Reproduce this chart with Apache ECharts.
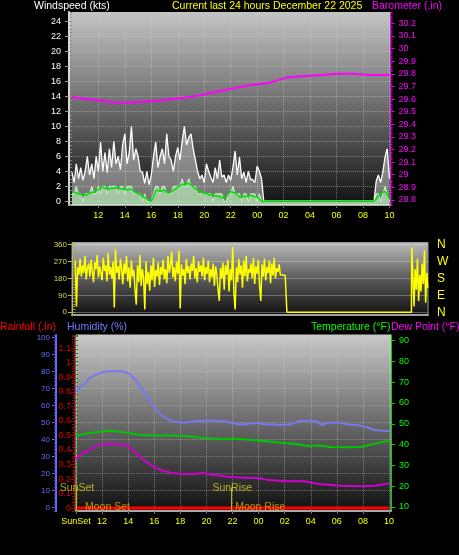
<!DOCTYPE html>
<html><head><meta charset="utf-8">
<script src="https://cdn.jsdelivr.net/npm/echarts@6/dist/echarts.min.js"></script>
<style>html,body{margin:0;padding:0;background:#000;}#c{width:459px;height:555px;}</style>
</head><body><div id="c"></div>
<script>
// ---------- tick labels ----------
const topTickHours = [2,4,6,8,10,12,14,16,18,20,22,24];
const topTickLabels = ['12','14','16','18','20','22','00','02','04','06','08','10'];
const botTickHours = [0,2,4,6,8,10,12,14,16,18,20,22,24];
const botTickLabels = ['SunSet','12','14','16','18','20','22','00','02','04','06','08','10'];
const windTicks = [0,2,4,6,8,10,12,14,16,18,20,22,24];
const baroTicks = [28.8,28.9,29,29.1,29.2,29.3,29.4,29.5,29.6,29.7,29.8,29.9,30,30.1,30.2];
const dirTicks = [0,90,180,270,360];
const compassLabels = {0:'N',90:'E',180:'S',270:'W',360:'N'};
const tempTicks = [10,20,30,40,50,60,70,80,90];
const humTicks = [0,10,20,30,40,50,60,70,80,90,100];
const rainTicks = [0,0.1,0.2,0.3,0.4,0.5,0.6,0.7,0.8,0.9,1,1.1];

// ---------- wind (10-minute samples from 10:00, hours since start = i/6) ----------
const windStep = 1/6;
const windGust = [
 3.9,2.5,5.0,3.0,4.5,2.8,4.0,6.0,3.5,5.0,
 3.0,6.0,4.0,7.9,4.0,6.5,3.8,7.0,4.5,8.0,
 5.0,6.0,4.2,7.5,9.0,5.0,6.5,10.0,5.5,7.0,
 6.0,4.0,3.9,2.4,4.0,2.2,3.5,6.0,7.9,4.5,
 6.0,7.0,5.0,9.0,6.0,5.5,4.0,6.0,7.2,5.5,
 8.0,10.0,7.5,8.5,9.0,7.0,5.5,4.0,3.0,3.5,
 2.5,5.0,4.0,3.2,2.5,4.5,3.0,5.5,3.2,3.5,
 2.5,3.5,2.8,4.5,6.7,3.5,5.9,3.0,3.9,2.5,
 4.0,2.9,2.9,2.5,4.7,4.0,3.0,
 0,0,0,0,0,0,0,0,0,0,0,0,0,0,0,0,0,0,0,0,0,0,0,0,0,0,
 0,0,0,0,0,0,0,0,0,0,0,0,0,0,0,0,0,0,0,0,0,0,0,0,0,
 2.7,3.5,2.5,3.9,5.9,7.0,3.0
];
const windSpeed = [
 1,1,2,1,1,0,1,1,1,2,
 1,1,2,1,2,2,1,2,2,2,
 2,1,2,2,1,2,2,2,1,1,
 1,1,0,1,0,0,0,1,2,2,
 1,2,2,1,1,1,2,2,2,2,
 3,2,2,3,2,2,2,1,1,1,
 1,1,1,1,0,1,1,1,1,0,
 0,1,1,2,1,1,1,0,1,1,
 0,1,1,1,0,1,0,
 0,0,0,0,0,0,0,0,0,0,0,0,0,0,0,0,0,0,0,0,0,0,0,0,0,0,
 0,0,0,0,0,0,0,0,0,0,0,0,0,0,0,0,0,0,0,0,0,0,0,0,0,
 1,1,0,1,2,1,0
];
const windAvg = [
 1.2,1.2,1.1,1.0,0.9,0.8,0.8,0.9,1.1,1.2,
 1.2,1.4,1.6,1.8,1.9,1.7,1.8,1.6,1.8,1.7,
 1.8,1.9,1.7,1.6,1.7,1.5,1.6,1.6,1.4,1.2,
 1.0,0.9,0.7,0.5,0.3,0.1,0.0,0.6,1.4,1.5,
 1.3,1.4,1.5,1.2,1.1,1.3,1.5,1.6,1.9,2.1,
 2.3,2.2,2.3,2.4,2.2,1.9,1.7,1.5,1.3,1.2,
 1.0,1.1,0.9,0.8,0.9,0.7,0.7,0.6,0.5,0.4,
 0.6,1.0,1.3,1.2,1.1,0.9,0.6,0.5,0.7,0.6,
 0.7,0.8,0.7,0.6,0.6,0.3,0.0,
 0,0,0,0,0,0,0,0,0,0,0,0,0,0,0,0,0,0,0,0,0,0,0,0,0,0,
 0,0,0,0,0,0,0,0,0,0,0,0,0,0,0,0,0,0,0,0,0,0,0,0,0,
 0.3,0.8,1.0,1.2,1.3,0.9,0.3
];

// ---------- barometer [hour, inHg] ----------
const baro = [[0,29.617],[1,29.60],[2.1,29.59],[3,29.575],[3.9,29.57],[4.8,29.575],[5.7,29.58],
 [6.8,29.59],[7.9,29.605],[8.8,29.615],[9.7,29.63],[10.8,29.655],[12,29.68],[13.4,29.71],
 [14.9,29.73],[15.6,29.75],[16.2,29.77],[17.4,29.78],[18.9,29.79],[20,29.80],[21.2,29.80],
 [22.5,29.79],[24,29.79]];

// ---------- wind direction (5-minute samples from 10:00) ----------
const dirStep = 1/12;
const dirMain = [
 275,30,240,200,285,190,250,210,300,175,235,260,
 190,280,215,160,265,230,305,185,245,210,170,290,
 220,250,165,315,200,240,180,270,25,335,210,245,
 175,285,230,150,260,205,300,165,240,130,275,190,
 225,120,40,250,160,305,140,230,180,15,270,150,
 215,115,250,170,290,135,225,190,265,145,240,200,
 280,175,230,155,300,210,250,323,185,240,165,270,
 205,327,20,255,195,230,150,285,210,245,175,260,
 220,300,180,235,160,270,215,250,190,290,170,240,
 205,275,160,230,185,260,140,245,200,120,60,235,
 180,265,120,250,200,280,110,230,170,349,100,15,
 240,160,285,200,250,130,275,190,300,165,230,210,
 260,180,290,150,245,205,280,140,60,255,190,285,
 170,240,210,275,155,260,195,290,180,235,215,255,
 200,195,198,195,196
];
const dirTail = [[14.43,195],[14.45,0],[22.95,0],[22.97,345],[23.05,340],[23.13,30],[23.2,230],
 [23.28,120],[23.36,285],[23.44,60],[23.52,200],[23.6,110],[23.68,260],[23.76,150],
 [23.84,330],[23.92,50],[24.0,210],[24.06,130]];

// ---------- bottom panel [hour, value] ----------
const humidity = [[0,68],[0.3,71],[0.6,72],[1,76],[1.5,78],[2,79.5],[2.5,80],[3,80],[3.5,80],[4,79],
 [4.3,77],[4.7,74],[5,70],[5.4,66],[5.8,61],[6.2,57],[6.6,54],[7,52],[7.5,50.5],[8,50],[8.5,50],
 [9,50.5],[9.5,51],[10,51],[10.5,51],[11,51],[11.5,50.5],[12,49.5],[12.5,49],[13,49],[13.5,49.5],
 [14,49.5],[14.5,49],[15,49],[15.5,48.5],[16,48.5],[16.5,49],[17,50.5],[17.5,51],[18,51],
 [18.5,50.5],[18.8,48.5],[19.2,49.5],[19.6,50],[20.2,50],[20.8,49],[21.4,48.5],[21.9,48],
 [22.4,47],[22.9,45.6],[23.5,45.2],[24,45]];
const temperature = [[0,44.2],[1,45.5],[2,46.3],[2.6,46.6],[3.5,46],[4,45.5],[5,44.6],[6,44.4],
 [7,44.3],[8,44.2],[9,43.8],[9.5,43.4],[10.5,42.9],[11.4,42.6],[12,42.8],[13,42.4],[14.2,41.8],
 [15.5,41],[16.7,40.4],[17.8,39.3],[18.6,39.5],[19.5,38.8],[21,38.7],[21.8,38.8],[22.5,39.8],
 [23.2,40.8],[24,41.8]];
const dewPoint = [[0,33],[0.5,35.9],[1,37],[1.45,39.1],[2,40],[2.6,40.4],[3.2,40],[3.9,39.6],
 [4.6,35.9],[5.2,32.5],[5.9,29.5],[6.6,27.5],[7.4,26.3],[8.2,25.8],[9,25.8],[9.8,26.3],
 [10.5,25.5],[11.8,24.4],[13.4,23.9],[14,23.9],[14.6,23.1],[16.1,22.3],[17.5,22.3],[18.6,21],
 [20.2,20.2],[21.9,19.9],[22.9,20.2],[24,21.2]];
const rainfall = [[0,0],[24,0]];
const sunEvents = [['SunSet',0],['SunRise',11.9]];
const moonEvents = [['Moon Set',0.69],['Moon Rise',12.2]];

// ---------- build ----------
const FONT = 'Liberation Sans, Arial, sans-serif';
const TS = 10.5;
const series_ = (arr, step) => arr.map((v,i)=>[i*step, v]);
const bg = (top, mid, bot) => ({type:'linear',x:0,y:0,x2:0,y2:1,colorStops:[
  {offset:0,color:top},{offset:0.5,color:mid},{offset:1,color:bot}]});
const dotted = c => ({show:true,lineStyle:{color:c,type:'dotted',width:1}});
const lab = (arr, labels) => v => { const k = arr.findIndex(a=>Math.abs(a-v)<1e-6); return k<0?'':labels[k]; };
const ttl = (text,left,top,color) => ({text,left,top,padding:0,textStyle:{color,fontSize:TS,fontWeight:'normal',fontFamily:FONT}});

function mainY(o){
  return Object.assign({type:'value',scale:true,axisLine:{show:true,onZero:false},splitLine:{show:false}}, o);
}
function minorY(grid, pos, min, max, interval, color, offset){
  return {type:'value',gridIndex:grid,position:pos,min,max,interval,offset:offset||0,
    axisLine:{show:false},axisLabel:{show:false},splitLine:{show:false},
    axisTick:{show:true,length:2,lineStyle:{color}}};
}

const option = {
  backgroundColor:'#000',
  animation:false,
  title:[
    ttl('Windspeed (kts)',34,1,'#ffffff'),
    ttl('Current last 24 hours December 22 2025',172,1,'#ffff00'),
    ttl('Barometer (.in)',372,1,'#ff00ff'),
    ttl('Rainfall (.in)',0,322,'#ff0000'),
    ttl('Humidity (%)',67,322,'#7878ff'),
    ttl('Temperature (°F)',311,322,'#00ff00'),
    ttl('Dew Point (°F)',391,322,'#ff00ff')
  ],
  grid:[
    {left:69,top:12,width:321.5,height:193,show:true,borderWidth:0,outerBoundsMode:'none',
      backgroundColor:bg('#c4c4c4','#6a6a6a','#121212')},
    {left:72,top:242.5,width:356,height:72.5,show:true,borderWidth:1,borderColor:'#9a9a9a',outerBoundsMode:'none',
      backgroundColor:bg('#bdbdbd','#5a5a5a','#101010')},
    {left:76,top:335,width:315,height:176,show:true,borderWidth:1,borderColor:'#c8c8c8',outerBoundsMode:'none',
      backgroundColor:bg('#c8c8c8','#6a6a6a','#101010')}
  ],
  xAxis:[
    {type:'value',gridIndex:0,min:-0.22,max:24.08,
      axisLine:{show:true,onZero:false,lineStyle:{color:'#a8a8a8',width:2}},
      axisTick:{show:true,customValues:topTickHours,length:3,lineStyle:{color:'#707070'}},
      axisLabel:{customValues:topTickHours,formatter:lab(topTickHours,topTickLabels),color:'#ffff00',fontSize:9,fontFamily:FONT,margin:6},
      splitLine:dotted('rgba(210,210,210,0.45)')},
    {type:'value',gridIndex:1,min:-0.22,max:24.08,
      axisLine:{show:true,onZero:false,lineStyle:{color:'#a0a0a0',width:2}},
      axisTick:{show:false},axisLabel:{show:false},splitLine:{show:false}},
    {type:'value',gridIndex:2,min:0,max:24.15,
      axisLine:{show:true,onZero:false,lineStyle:{color:'#a8a8a8',width:2}},
      axisTick:{show:true,customValues:botTickHours,length:3,lineStyle:{color:'#707070'}},
      axisLabel:{customValues:botTickHours,formatter:lab(botTickHours,botTickLabels),color:'#ffff00',fontSize:9,fontFamily:FONT,margin:6},
      splitLine:dotted('rgba(210,210,210,0.45)')}
  ],
  yAxis:[
    // 0 wind
    mainY({gridIndex:0,position:'left',min:-0.5,max:25.25,
      axisLine:{show:true,onZero:false,lineStyle:{color:'#d8d8d8',width:2}},
      axisTick:{show:true,customValues:windTicks,length:4,lineStyle:{color:'#9a9a9a'}},
      axisLabel:{customValues:windTicks,color:'#ffffff',fontSize:9,fontFamily:FONT,margin:8},
      splitLine:dotted('rgba(210,210,210,0.45)')}),
    // 1 wind minor
    minorY(0,'left',-0.5,25.25,0.5,'#8a8a8a'),
    // 2 baro
    mainY({gridIndex:0,position:'right',min:28.76,max:30.29,
      axisLine:{show:true,onZero:false,lineStyle:{color:'#ff00ff',width:1}},
      axisTick:{show:true,customValues:baroTicks,length:4,lineStyle:{color:'#ff00ff'}},
      axisLabel:{customValues:baroTicks,formatter:v=>String(+v.toFixed(1)),color:'#ff00ff',fontSize:9,fontFamily:FONT,margin:8}}),
    // 3 baro minor
    minorY(0,'right',28.76,30.29,0.02,'#c000c0'),
    // 4 direction
    mainY({gridIndex:1,position:'left',min:-15,max:371.7,
      axisLine:{show:true,onZero:false,lineStyle:{color:'#b0b0b0',width:1}},
      axisTick:{show:true,customValues:dirTicks,length:4,lineStyle:{color:'#c0c000'}},
      axisLabel:{customValues:dirTicks,color:'#d8d850',fontSize:8,fontFamily:FONT,margin:5},
      splitLine:{show:true,lineStyle:{color:'rgba(220,220,220,0.35)',width:1}}}),
    // 5 direction minor
    minorY(1,'left',-15,371.7,15,'#b0b000'),
    // 6 compass
    mainY({gridIndex:1,position:'right',min:-15,max:371.7,
      axisLine:{show:false},axisTick:{show:false,customValues:dirTicks},
      axisLabel:{customValues:dirTicks,formatter:v=>compassLabels[Math.round(v)]||'',color:'#ffff00',fontSize:12,fontFamily:FONT,margin:9}}),
    // 7 temperature
    mainY({gridIndex:2,position:'right',min:8,max:92.74,
      axisLine:{show:true,onZero:false,lineStyle:{color:'#00d000',width:1}},
      axisTick:{show:true,customValues:tempTicks,length:4,lineStyle:{color:'#00d000'}},
      axisLabel:{customValues:tempTicks,color:'#00ff00',fontSize:9,fontFamily:FONT,margin:8}}),
    // 8 temp minor
    minorY(2,'right',8,92.74,2,'#00a000'),
    // 9 humidity
    mainY({gridIndex:2,position:'left',offset:20,min:-2,max:101.36,
      axisLine:{show:true,onZero:false,lineStyle:{color:'#6a6aff',width:2}},
      axisTick:{show:true,customValues:humTicks,length:4,lineStyle:{color:'#6a6aff'}},
      axisLabel:{customValues:humTicks,color:'#6a6aff',fontSize:8,fontFamily:FONT,margin:6},
      splitLine:dotted('rgba(210,210,210,0.4)')}),
    // 10 humidity minor
    minorY(2,'left',-2,101.36,2,'#5050d0',20),
    // 11 rain
    mainY({gridIndex:2,position:'left',offset:2,min:-0.02,max:1.192,
      axisLine:{show:true,onZero:false,lineStyle:{color:'#d00000',width:1,type:'dotted'}},
      axisTick:{show:true,customValues:rainTicks,length:3,lineStyle:{color:'#d00000'}},
      axisLabel:{customValues:rainTicks,formatter:v=>String(+v.toFixed(1)),color:'#e00000',fontSize:9,fontFamily:FONT,margin:3}}),
    // 12 rain minor
    minorY(2,'left',-0.02,1.192,0.02,'#a00000',2)
  ],
  series:[
    {name:'Gust',type:'line',xAxisIndex:0,yAxisIndex:0,symbol:'none',data:series_(windGust,windStep),
      lineStyle:{color:'#ffffff',width:1.3},areaStyle:{color:'rgba(255,255,255,0.58)',origin:'start'},z:2},
    {name:'Wind',type:'line',xAxisIndex:0,yAxisIndex:0,symbol:'none',data:series_(windSpeed,windStep),
      lineStyle:{color:'#c8f5c8',width:1},areaStyle:{color:'rgba(190,245,190,0.9)',origin:'start'},z:3},
    {name:'Avg',type:'line',xAxisIndex:0,yAxisIndex:0,symbol:'none',data:series_(windAvg,windStep),
      lineStyle:{color:'#00dd00',width:1.5},z:4},
    {name:'Barometer',type:'line',xAxisIndex:0,yAxisIndex:2,symbol:'none',data:baro,
      lineStyle:{color:'#ff00ff',width:2},z:5},
    {name:'Direction',type:'line',xAxisIndex:1,yAxisIndex:4,symbol:'none',
      data:series_(dirMain,dirStep).concat(dirTail),lineStyle:{color:'#ffff00',width:1.5},z:3},
    {name:'Humidity',type:'line',xAxisIndex:2,yAxisIndex:9,symbol:'none',data:humidity,
      lineStyle:{color:'#7878f0',width:2},z:3},
    {name:'Temperature',type:'line',xAxisIndex:2,yAxisIndex:7,symbol:'none',data:temperature,
      lineStyle:{color:'#00c800',width:2},z:3},
    {name:'Dew Point',type:'line',xAxisIndex:2,yAxisIndex:7,symbol:'none',data:dewPoint,
      lineStyle:{color:'#d000d0',width:2},z:3},
    {name:'Rainfall',type:'line',xAxisIndex:2,yAxisIndex:11,symbol:'none',data:rainfall,
      lineStyle:{color:'#ff0000',width:3},z:4},
    {name:'Sun',type:'scatter',xAxisIndex:2,yAxisIndex:7,symbolSize:0,z:6,
      data:sunEvents.map(e=>({name:e[0],value:[e[1]+0.08,18.8]})),
      label:{show:true,position:'inside',formatter:p=>p.name,color:'#d8d820',fontSize:TS,fontFamily:FONT},
      markLine:{silent:true,symbol:'none',label:{show:false},
        data:sunEvents.map(e=>[{coord:[e[1],19.3]},{coord:[e[1],8.2]}]),
        lineStyle:{color:'#b8b800',width:1,type:'solid'}}},
    {name:'Moon',type:'scatter',xAxisIndex:2,yAxisIndex:7,symbolSize:0,z:6,
      data:moonEvents.map(e=>({name:e[0],value:[e[1],10.1]})),
      label:{show:true,position:'right',distance:0,formatter:p=>p.name,color:'#dcb400',fontSize:TS,fontFamily:FONT}}
  ]
};
const chart = echarts.init(document.getElementById('c'),null,{renderer:'canvas'});
chart.setOption(option);
</script></body></html>
